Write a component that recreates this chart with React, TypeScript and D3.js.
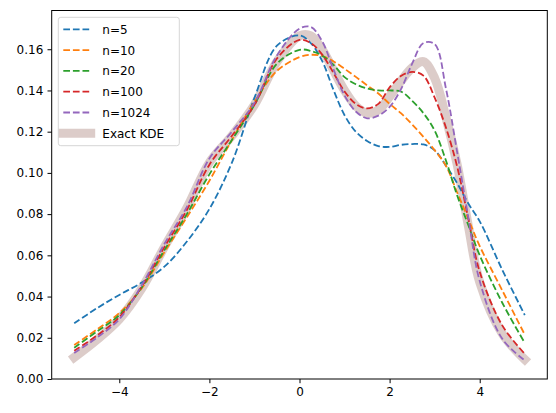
import { useEffect, useRef } from 'react';
import * as d3 from 'd3';

// Evaluation grid (finer around the two modes)
const xGrid = [
  -5, -4.5, -4, -3.5, -3, -2.5, -2, -1.5, -1, -0.5, 0, 0.25, 0.5, 0.75, 1, 1.25, 1.5, 1.75, 2, 2.25,
  2.5, 2.75, 3, 3.25, 3.5, 3.75, 4, 4.5, 5,
];

const densityN5 = [
  0.027, 0.0343, 0.0408, 0.0468, 0.0545, 0.0667, 0.0825, 0.105, 0.1364, 0.1617, 0.1667, 0.163, 0.1545,
  0.1405, 0.128, 0.12, 0.1155, 0.113, 0.1126, 0.1136, 0.114, 0.1138, 0.111, 0.1035, 0.095, 0.085, 0.0765,
  0.053, 0.031,
];
const densityN10 = [
  0.0165, 0.024, 0.032, 0.044, 0.0615, 0.0785, 0.0962, 0.116, 0.1345, 0.1495, 0.1562, 0.1573, 0.1568,
  0.1542, 0.1505, 0.1466, 0.1425, 0.1385, 0.1335, 0.129, 0.1235, 0.1175, 0.111, 0.1035, 0.0905, 0.0775,
  0.0645, 0.043, 0.0215,
];
const densityN20 = [
  0.0152, 0.023, 0.031, 0.0445, 0.0625, 0.08, 0.0993, 0.116, 0.133, 0.153, 0.1597, 0.1592, 0.157, 0.1525,
  0.1465, 0.143, 0.141, 0.14, 0.14, 0.1395, 0.135, 0.129, 0.1205, 0.106, 0.089, 0.0745, 0.06, 0.037,
  0.0175,
];
const densityN100 = [
  0.0137, 0.021, 0.03, 0.045, 0.064, 0.082, 0.104, 0.118, 0.133, 0.1555, 0.1645, 0.163, 0.1575, 0.1487,
  0.1395, 0.1335, 0.1313, 0.1335, 0.1415, 0.147, 0.149, 0.1472, 0.1365, 0.122, 0.103, 0.0775, 0.052,
  0.026, 0.0122,
];
const densityN1024 = [
  0.0126, 0.02, 0.029, 0.0455, 0.0655, 0.0835, 0.107, 0.12, 0.134, 0.157, 0.17, 0.1708, 0.164, 0.1505,
  0.1376, 0.1298, 0.1265, 0.1278, 0.132, 0.1405, 0.153, 0.163, 0.1625, 0.141, 0.11, 0.078, 0.0475,
  0.0195, 0.009,
];
const densityExact = [
  0.0105, 0.019, 0.029, 0.044, 0.064, 0.083, 0.105, 0.118, 0.133, 0.154, 0.1665, 0.1665, 0.16, 0.15, 0.14,
  0.1325, 0.129, 0.1305, 0.137, 0.1445, 0.151, 0.154, 0.146, 0.127, 0.104, 0.074, 0.047, 0.022, 0.0095,
];

const xTicks = [-4, -2, 0, 2, 4];
const yTicks = [0, 0.02, 0.04, 0.06, 0.08, 0.1, 0.12, 0.14, 0.16];

const sampled = [
  { label: 'n=5', values: densityN5, color: '#1f77b4' },
  { label: 'n=10', values: densityN10, color: '#ff7f0e' },
  { label: 'n=20', values: densityN20, color: '#2ca02c' },
  { label: 'n=100', values: densityN100, color: '#d62728' },
  { label: 'n=1024', values: densityN1024, color: '#9467bd' },
];
const exact = { label: 'Exact KDE', values: densityExact, color: '#8c564b' };

const WIDTH = 556;
const HEIGHT = 413;
const FONT = '"DejaVu Sans", sans-serif';

export default function App() {
  const svgRef = useRef<SVGSVGElement>(null);

  useEffect(() => {
    if (!svgRef.current) return;
    const svg = d3.select(svgRef.current);
    svg.selectAll('*').remove();

    const left = 51.7;
    const right = 547.3;
    const top = 10.5;
    const bottom = 379;

    const x = d3.scaleLinear().domain([-5.5, 5.5]).range([left, right]);
    const y = d3.scaleLinear().domain([0, 0.1788]).range([bottom, top]);

    const line = d3
      .line<number>()
      .x((_, i) => x(xGrid[i]))
      .y((d) => y(d))
      .curve(d3.curveCatmullRom.alpha(0.5));

    // thick translucent reference curve underneath
    svg
      .append('path')
      .attr('d', line(exact.values))
      .attr('fill', 'none')
      .attr('stroke', exact.color)
      .attr('stroke-opacity', 0.3)
      .attr('stroke-width', 9)
      .attr('stroke-linecap', 'square')
      .attr('stroke-linejoin', 'round');

    svg
      .selectAll('path.sample')
      .data(sampled)
      .enter()
      .append('path')
      .attr('class', 'sample')
      .attr('d', (d) => line(d.values))
      .attr('fill', 'none')
      .attr('stroke', (d) => d.color)
      .attr('stroke-width', 1.8)
      .attr('stroke-dasharray', '6.7,2.9');

    // axes
    const xAxis = svg
      .append('g')
      .attr('transform', `translate(0,${bottom})`)
      .call(d3.axisBottom(x).tickValues(xTicks).tickFormat(d3.format('d')).tickSize(4.2).tickPadding(4.2));
    const yAxis = svg
      .append('g')
      .attr('transform', `translate(${left},0)`)
      .call(d3.axisLeft(y).tickValues(yTicks).tickFormat(d3.format('.2f')).tickSize(4.2).tickPadding(4.2));

    [xAxis, yAxis].forEach((g) => {
      g.select('.domain').remove();
      g.selectAll('line').attr('stroke', '#000').attr('stroke-width', 1);
      g.selectAll('text').attr('fill', '#000').style('font-family', FONT).style('font-size', '12px');
    });

    svg
      .append('rect')
      .attr('x', left)
      .attr('y', top)
      .attr('width', right - left)
      .attr('height', bottom - top)
      .attr('fill', 'none')
      .attr('stroke', '#000')
      .attr('stroke-width', 1);

    // legend
    const legend = svg.append('g');
    legend
      .append('rect')
      .attr('x', 58.3)
      .attr('y', 17.3)
      .attr('width', 121)
      .attr('height', 128.4)
      .attr('rx', 2.5)
      .attr('fill', '#fff')
      .attr('fill-opacity', 0.8)
      .attr('stroke', '#d6d6d6')
      .attr('stroke-width', 1);

    const entries = [...sampled, exact];
    entries.forEach((s, i) => {
      const ly = 29.3 + i * 20.8;
      const isExact = s === exact;
      legend
        .append('line')
        .attr('x1', 63.3)
        .attr('x2', 90.7)
        .attr('y1', ly)
        .attr('y2', ly)
        .attr('stroke', s.color)
        .attr('stroke-opacity', isExact ? 0.3 : 1)
        .attr('stroke-width', isExact ? 9 : 1.8)
        .attr('stroke-linecap', isExact ? 'square' : 'butt')
        .attr('stroke-dasharray', isExact ? null : '6.7,2.9');
      legend
        .append('text')
        .attr('x', 102.3)
        .attr('y', ly + 4.4)
        .style('font-family', FONT)
        .style('font-size', '12px')
        .attr('fill', '#000')
        .text(s.label);
    });
  }, []);

  return (
    <div style={{ position: 'absolute', left: 0, top: 0 }}>
      <svg ref={svgRef} width={WIDTH} height={HEIGHT} style={{ display: 'block', background: '#fff' }}></svg>
    </div>
  );
}
